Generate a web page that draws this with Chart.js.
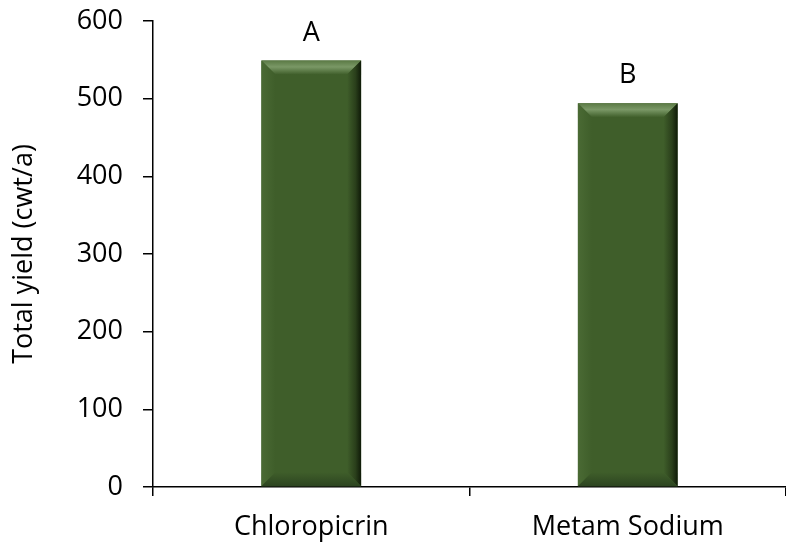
<!DOCTYPE html>
<html lang="en">
<head>
  <meta charset="UTF-8">
  <title>Total yield</title>
  <script src="https://cdn.jsdelivr.net/npm/chart.js"></script>
  <style>
    html,body{margin:0;padding:0;background:#fff;}
    #wrap{width:786px;height:548px;position:relative;}
  </style>
</head>
<body>
<div id="wrap"><canvas id="chart" width="786" height="548"></canvas></div>
<script>
// data
const categories = ['Chloropicrin', 'Metam Sodium'];
const yieldValues = [549, 494];
const letters = ['A', 'B'];
const yTicks = [0, 100, 200, 300, 400, 500, 600];

const FONT = "'Open Sans', sans-serif";
const FSIZE = 27;
const barColor = '#3f5e2a';

// bevel look like the office chart: light top, dark right/bottom
const bevelPlugin = {
  id: 'bevel',
  afterDatasetDraw(chart, args) {
    const ctx = chart.ctx;
    args.meta.data.forEach(bar => {
      const {x, y, base, width} = bar.getProps(['x', 'y', 'base', 'width'], true);
      const l = x - width / 2, r = x + width / 2, t = y, b = base;
      const d = 14;
      ctx.save();
      // top
      let g = ctx.createLinearGradient(0, t, 0, t + d);
      g.addColorStop(0, '#5b7a45'); g.addColorStop(0.45, '#7a9866'); g.addColorStop(1, barColor);
      ctx.fillStyle = g;
      ctx.beginPath(); ctx.moveTo(l, t); ctx.lineTo(r, t); ctx.lineTo(r - d, t + d); ctx.lineTo(l + d, t + d); ctx.closePath(); ctx.fill();
      // right
      g = ctx.createLinearGradient(r - d, 0, r, 0);
      g.addColorStop(0, barColor); g.addColorStop(0.6, '#2a3f1b'); g.addColorStop(1, '#0f1a08');
      ctx.fillStyle = g;
      ctx.beginPath(); ctx.moveTo(r, t); ctx.lineTo(r, b); ctx.lineTo(r - d, b - d); ctx.lineTo(r - d, t + d); ctx.closePath(); ctx.fill();
      // left
      g = ctx.createLinearGradient(l, 0, l + d, 0);
      g.addColorStop(0, '#4a6a34'); g.addColorStop(1, barColor);
      ctx.fillStyle = g;
      ctx.beginPath(); ctx.moveTo(l, t); ctx.lineTo(l + d, t + d); ctx.lineTo(l + d, b - d); ctx.lineTo(l, b); ctx.closePath(); ctx.fill();
      // bottom
      g = ctx.createLinearGradient(0, b - d, 0, b);
      g.addColorStop(0, barColor); g.addColorStop(1, '#2c4420');
      ctx.fillStyle = g;
      ctx.beginPath(); ctx.moveTo(l, b); ctx.lineTo(l + d, b - d); ctx.lineTo(r - d, b - d); ctx.lineTo(r, b); ctx.closePath(); ctx.fill();
      ctx.restore();
    });
  }
};

const letterPlugin = {
  id: 'letters',
  afterDatasetsDraw(chart) {
    const ctx = chart.ctx;
    const meta = chart.getDatasetMeta(0);
    ctx.save();
    ctx.font = FSIZE + 'px ' + FONT;
    ctx.fillStyle = '#000';
    ctx.textAlign = 'center';
    ctx.textBaseline = 'alphabetic';
    meta.data.forEach((bar, i) => {
      ctx.fillText(letters[i], bar.x, bar.y - 20);
    });
    ctx.restore();
  }
};

new Chart(document.getElementById('chart'), {
  type: 'bar',
  data: {
    labels: categories,
    datasets: [{
      data: yieldValues,
      backgroundColor: barColor,
      borderWidth: 0,
      barPercentage: 0.315,
      categoryPercentage: 1
    }]
  },
  options: {
    responsive: false,
    animation: false,
    layout: {padding: {top: 21, right: 0, left: 8, bottom: 0}},
    plugins: {legend: {display: false}, tooltip: {enabled: false}},
    scales: {
      x: {
        grid: {display: true, drawOnChartArea: false, offset: true, tickLength: 9, color: '#000', lineWidth: 1.5},
        border: {color: '#000', width: 1.5},
        ticks: {color: '#000', font: {family: FONT, size: FSIZE}, padding: 15},
        afterFit(s) { s.height = 61; }
      },
      y: {
        min: 0, max: 600,
        afterBuildTicks(s) { s.ticks = yTicks.map(v => ({value: v})); },
        grid: {display: true, drawOnChartArea: false, tickLength: 10, color: '#000', lineWidth: 1.5},
        border: {color: '#000', width: 1.5},
        ticks: {color: '#000', font: {family: FONT, size: FSIZE}, padding: 20},
        title: {display: true, text: 'Total yield (cwt/a)', color: '#000', font: {family: FONT, size: FSIZE}, padding: {top: 0, bottom: 14}},
        afterFit(s) { s.width = 145; s.paddingTop = 0; s.paddingBottom = 0; }
      }
    }
  },
  plugins: [bevelPlugin, letterPlugin]
});
</script>
</body>
</html>
